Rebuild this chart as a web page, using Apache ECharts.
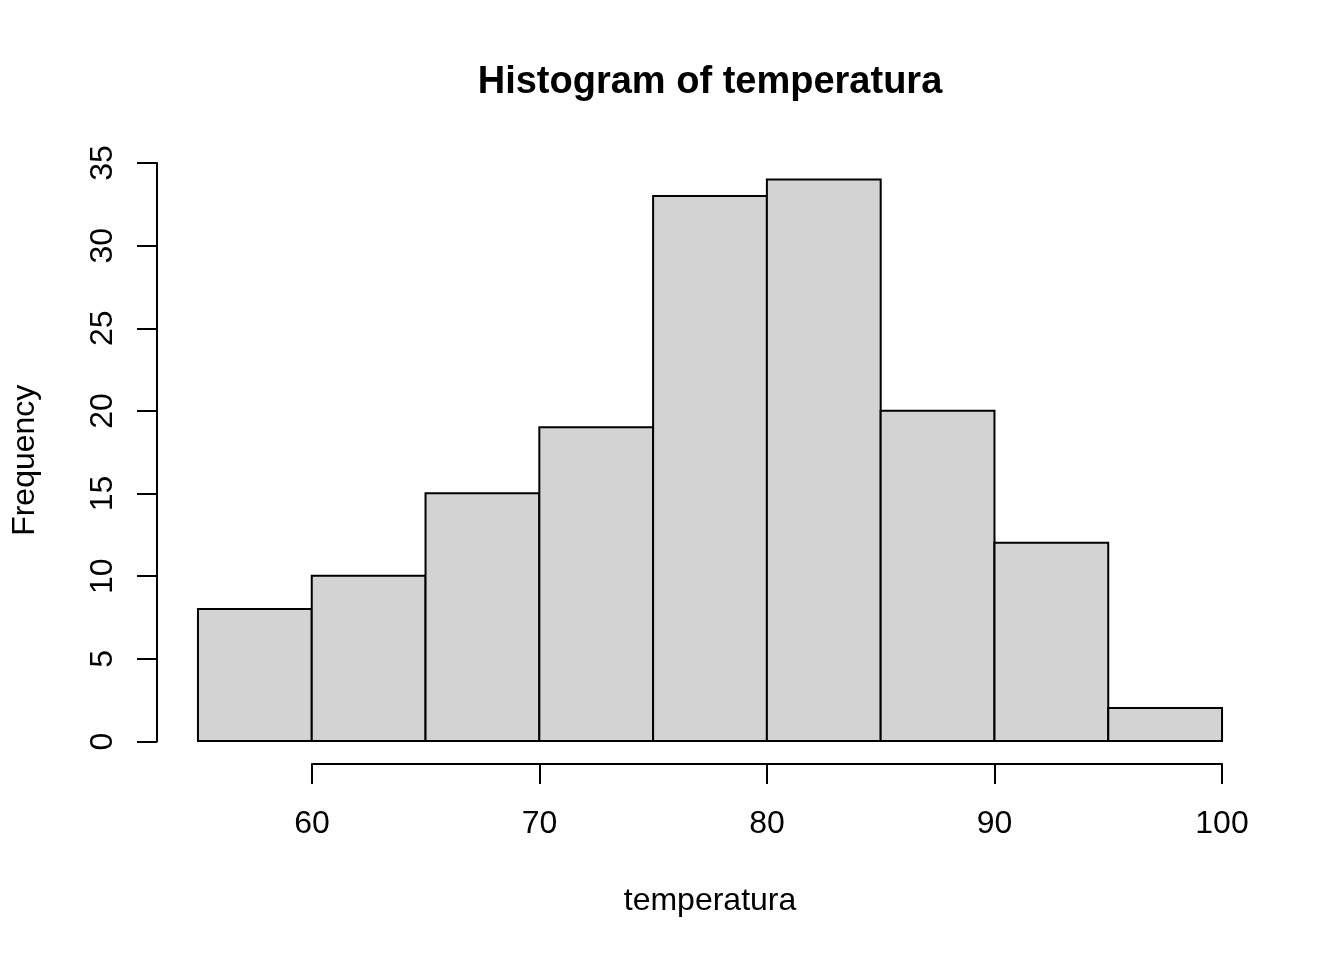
<!DOCTYPE html>
<html lang="es">
<head>
    <meta charset="UTF-8">
    <title>Histogram of temperatura</title>
    <style>
        body { margin: 0; background: #fff; }
        #container { width: 1344px; height: 960px; }
    </style>
    <script src="https://cdn.jsdelivr.net/npm/echarts@6/dist/echarts.min.js"></script>
</head>
<body>
    <div id="container"></div>
    <script>
        // histogram data: bin edges and counts
        var binEdges = [55, 60, 65, 70, 75, 80, 85, 90, 95, 100];
        var counts = [8, 10, 15, 19, 33, 34, 20, 12, 2];
        var xTicks = [60, 70, 80, 90, 100];
        var yTicks = [0, 5, 10, 15, 20, 25, 30, 35];

        var font = 'Liberation Sans, Helvetica, Arial, sans-serif';

        var bins = counts.map(function (c, i) {
            return [binEdges[i], binEdges[i + 1], c];
        });

        // R-style extended ranges (4% padding)
        var xPad = (binEdges[binEdges.length - 1] - binEdges[0]) * 0.04;
        var yMaxData = Math.max.apply(null, counts);
        var yPad = yMaxData * 0.04;

        var chart = echarts.init(document.getElementById('container'));

        var hidden = { show: false };

        var option = {
            backgroundColor: '#fff',
            animation: false,
            title: {
                text: 'Histogram of temperatura',
                left: 705,
                top: 59,
                textAlign: 'center',
                textStyle: { fontFamily: font, fontSize: 38, fontWeight: 'bold', color: '#000' }
            },
            grid: [
                // plot region
                { left: 157, right: 81, top: 157, bottom: 196.5 },
                // x axis (60..100)
                { left: 312, right: 122, top: 163, bottom: 196 },
                // y axis (0..35)
                { left: 157, right: 81, top: 163, bottom: 218.5 }
            ],
            xAxis: [
                {
                    gridIndex: 0, type: 'value',
                    min: binEdges[0] - xPad, max: binEdges[binEdges.length - 1] + xPad,
                    axisLine: hidden, axisTick: hidden, axisLabel: hidden, splitLine: hidden,
                    name: 'temperatura', nameLocation: 'middle', nameGap: 122,
                    nameTextStyle: { fontFamily: font, fontSize: 32, color: '#000' }
                },
                {
                    gridIndex: 1, type: 'value', min: 60, max: 100, interval: 10,
                    axisLine: { show: true, onZero: false, lineStyle: { color: '#000', width: 2 } },
                    axisTick: { show: true, inside: false, length: 20, lineStyle: { color: '#000', width: 2 } },
                    axisLabel: {
                        fontFamily: font, fontSize: 32, color: '#000', margin: 44,
                        customValues: xTicks, showMinLabel: true, showMaxLabel: true
                    },
                    splitLine: hidden
                },
                { gridIndex: 2, type: 'value', show: false }
            ],
            yAxis: [
                {
                    gridIndex: 0, type: 'value',
                    min: -yPad, max: yMaxData + yPad,
                    axisLine: hidden, axisTick: hidden, axisLabel: hidden, splitLine: hidden,
                    name: 'Frequency', nameLocation: 'middle', nameGap: 116,
                    nameTextStyle: { fontFamily: font, fontSize: 32, color: '#000' }
                },
                { gridIndex: 1, type: 'value', show: false },
                {
                    gridIndex: 2, type: 'value', min: 0, max: 35, interval: 5,
                    axisLine: { show: true, onZero: false, lineStyle: { color: '#000', width: 2 } },
                    axisTick: { show: true, inside: false, length: 20, lineStyle: { color: '#000', width: 2 } },
                    axisLabel: {
                        fontFamily: font, fontSize: 32, color: '#000', margin: 38, rotate: 90,
                        customValues: yTicks, showMinLabel: true, showMaxLabel: true
                    },
                    splitLine: hidden
                }
            ],
            series: [
                {
                    type: 'custom',
                    xAxisIndex: 0,
                    yAxisIndex: 0,
                    data: bins,
                    encode: { x: [0, 1], y: 2 },
                    renderItem: function (params, api) {
                        var p0 = api.coord([api.value(0), 0]);
                        var p1 = api.coord([api.value(1), api.value(2)]);
                        return {
                            type: 'rect',
                            shape: { x: p0[0], y: p1[1], width: p1[0] - p0[0], height: p0[1] - p1[1] },
                            style: { fill: '#d3d3d3', stroke: '#000', lineWidth: 2 }
                        };
                    }
                }
            ]
        };

        chart.setOption(option);
    </script>
</body>
</html>
